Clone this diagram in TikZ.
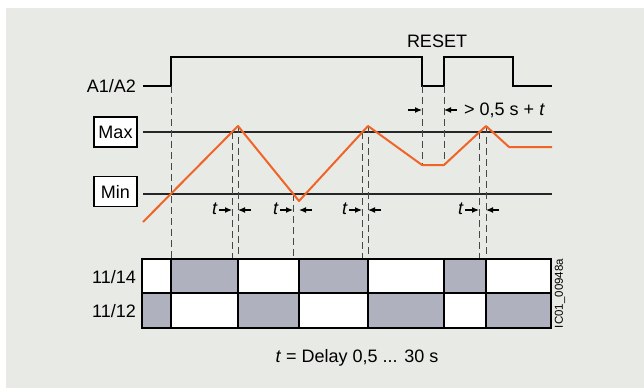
\documentclass[tikz,border=0pt]{standalone}
\usepackage{fontspec}
\setmainfont{Liberation Sans}
\usetikzlibrary{arrows.meta}
\usetikzlibrary{positioning}

\definecolor{panelgray}{RGB}{232,234,229}
\definecolor{cellgray}{RGB}{176,177,190}
\definecolor{rampor}{RGB}{240,100,40}
\definecolor{guidegray}{RGB}{70,70,70}

\begin{document}
\begin{tikzpicture}[
  x=1pt,
  y=-1pt,
  every node/.style={font=\fontsize{18}{20}\selectfont},
  signal/.style={line width=2pt, line join=miter},
  level/.style={line width=1.3pt, black!85},
  ramp/.style={line width=2pt, draw=rampor, line join=round},
  guide/.style={line width=1pt, guidegray, dash pattern=on 7pt off 4pt},
  delay/.style={line width=1.2pt, -{Latex[length=7pt,width=6pt]}},
  limitbox/.style={draw, line width=1.5pt, fill=white, minimum width=43pt, minimum height=30pt, inner sep=0pt},
  cellon/.style={fill=cellgray},
  grid/.style={line width=1.5pt}
]

\useasboundingbox (0,0) rectangle (644,389);
\fill[panelgray] (6,8) rectangle (644,388);

\def\hi{57}   % supply on
\def\lo{86}   % supply off
\def\tabtop{259}
\def\tabmid{293}
\def\tabbot{328}

% supply A1/A2
\node[anchor=east, inner sep=1pt] (A) at (137,86) {A1/A2};
\node (reset) at (437,41) {RESET};
\coordinate (s0) at (143,\lo);
\coordinate (s1) at (171,\lo);
\coordinate (s2) at (171,\hi);
\coordinate (s3) at (422,\hi);
\coordinate (s4) at (422,\lo);
\coordinate (s5) at (444,\lo);
\coordinate (s6) at (444,\hi);
\coordinate (s7) at (513,\hi);
\coordinate (s8) at (513,\lo);
\coordinate (s9) at (552,\lo);
\draw[signal] (s0) -- (s1) -- (s2) -- (s3) -- (s4) -- (s5) -- (s6) -- (s7) -- (s8) -- (s9);

% thresholds
\node[limitbox] (max) at (115.5,132) {Max};
\node[limitbox] (min) at (115.5,191.5) {Min};
\coordinate (maxR) at (552,132);
\coordinate (minR) at (552,194);
\draw[level] (143,132) -- (maxR);
\draw[level] (143,194) -- (minR);

% guides
\foreach \x/\y in {171/86, 232/132, 238/126, 293/194, 362/132, 368/126, 479/132, 486/126}
  \draw[guide] (\x,\y) -- (\x,\tabtop);
\foreach \x in {422, 444}
  \draw[guide] (\x,\lo) -- (\x,165);

% measured value
\coordinate (r0) at (143,222);
\coordinate (r1) at (238,126);
\coordinate (r2) at (299,201);
\coordinate (r3) at (368,126);
\coordinate (r4) at (422,165);
\coordinate (r5) at (444,165);
\coordinate (r6) at (486,126);
\coordinate (r7) at (509,147);
\coordinate (r8) at (552,147);
\draw[ramp] (r0) -- (r1) -- (r2) -- (r3) -- (r4) -- (r5) -- (r6) -- (r7) -- (r8);

% delay marks
\foreach \n/\a/\b/\c in {1/219/232/238, 2/280/293/299, 3/349/362/368, 4/465/479/486} {
  \node[anchor=east, inner sep=1pt] (t\n) at (\a,209) {\textit{t}};
  \coordinate (ta\n) at (\b,210);
  \coordinate (tb\n) at (\c,210);
  \coordinate (tc\n) at (\c+13,210);
  \draw[delay] (t\n.east |- ta\n) -- (ta\n);
  \draw[delay] (tc\n) -- (tb\n);
}

% reset time
\coordinate (ra) at (408,110);
\coordinate (rb) at (422,110);
\coordinate (rc) at (457,110);
\coordinate (rd) at (444,110);
\draw[delay] (ra) -- (rb);
\draw[delay] (rc) -- (rd);
\node[anchor=west, inner sep=1pt] (gap) at (463,110) {> 0,5 s + \textit{t}};

% contacts
\fill[white] (142,\tabtop) rectangle (551,\tabbot);
\foreach \a/\b in {171/238, 299/368, 444/486}
  \fill[cellon] (\a,\tabtop) rectangle (\b,\tabmid);
\foreach \a/\b in {142/171, 238/299, 368/444, 486/551}
  \fill[cellon] (\a,\tabmid) rectangle (\b,\tabbot);
\foreach \x in {171, 238, 299, 368, 444, 486}
  \draw[grid] (\x,\tabtop) -- (\x,\tabbot);
\draw[grid] (142,\tabmid) -- (551,\tabmid);
\draw[line width=2pt] (142,\tabtop) rectangle (551,\tabbot);
\node[anchor=east, inner sep=1pt] (k14) at (137,277) {11/14};
\node[anchor=east, inner sep=1pt] (k12) at (137,311) {11/12};
\node[rotate=90, font=\fontsize{11.5}{13}\selectfont, inner sep=0pt] (code) at (560,293.5) {IC01\_00948a};

\node (note) at (357,358) {\textit{t} = Delay 0,5 ... 30 s};

\end{tikzpicture}
\end{document}
